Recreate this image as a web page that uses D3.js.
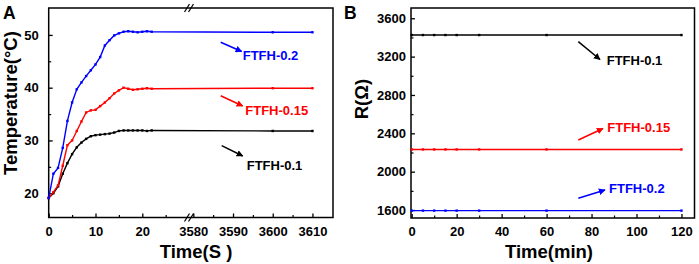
<!DOCTYPE html>
<html><head><meta charset="utf-8">
<script src="https://cdn.jsdelivr.net/npm/d3@7"></script>
<style>
body{margin:0;background:#fff;}
text{font-family:"Liberation Sans",Arial,sans-serif;font-weight:bold;}
</style></head>
<body><svg id="c" width="699" height="264"></svg>
<script>
// ---- Panel A data ----
const timeA = [0,1,2,3,4,5,6,7,8,9,10,11,12,13,14,15,16,17,18,19,20,21,22,3600,3610];
const tempBlue  = [19.1,23.7,24.8,28.6,33.7,37.2,39.7,41.0,42.2,43.3,44.4,45.8,48.0,49.0,49.9,50.3,50.6,50.7,50.6,50.5,50.6,50.7,50.6,50.5,50.5];
const tempRed   = [19.1,20.2,21.5,25.2,29.1,30.0,31.8,33.6,35.3,35.7,35.8,36.5,37.2,38.0,38.9,39.5,40.0,39.8,39.6,39.7,39.8,39.9,39.8,39.9,39.9];
const tempBlack = [19.1,20.0,21.3,23.7,25.7,27.4,28.7,29.6,30.3,30.8,31.0,31.1,31.2,31.3,31.5,31.8,31.9,31.9,31.9,31.9,31.9,31.8,31.9,31.8,31.8];
const ticksA1 = [0,10,20];
const ticksA2 = [3580,3590,3600,3610];
const ticksAy = [20,30,40,50];
// ---- Panel B data ----
const timeB = [0,5,10,15,20,30,60,120];
const resBlack = [3425,3425,3425,3425,3425,3425,3425,3425];
const resRed   = [2232,2232,2232,2232,2232,2232,2232,2232];
const resBlue  = [1594,1594,1594,1594,1594,1594,1594,1594];
const ticksBx = [0,20,40,60,80,100,120];
const ticksBy = [1600,2000,2400,2800,3200,3600];
const labels = ["FTFH-0.1","FTFH-0.15","FTFH-0.2"];
const colors = {black:"#000000", red:"#ff0000", blue:"#0000ff"};

const svg = d3.select("#c");
const fs = 13;
const fmt = d3.format("d");

function arrowDefs(){
  const defs = svg.append("defs");
  Object.entries(colors).forEach(([k,c])=>{
    defs.append("marker").attr("id","ah-"+k).attr("viewBox","0 0 10 10")
      .attr("refX",9).attr("refY",5).attr("markerWidth",4.5).attr("markerHeight",4.5)
      .attr("orient","auto").attr("markerUnits","strokeWidth")
      .append("path").attr("d","M0,0 L10,5 L0,10 z").attr("fill",c);
  });
}
arrowDefs();

function styleText(g){
  g.selectAll("text").attr("font-size",fs).attr("font-family","Liberation Sans, Arial")
    .attr("font-weight","bold").attr("fill","#000");
}

// ================= Panel A =================
const A = {l:48.7, r:333, t:8, b:217.5};
const xA1 = d3.scaleLinear().domain([0,30]).range([A.l,189.1]);
const xA2 = d3.scaleLinear().domain([3580,3615]).range([193.3,332.3]);
const xA = t => t < 1000 ? xA1(t) : xA2(t);
const yA = d3.scaleLinear().domain([15.4,55.1]).range([A.b,A.t]);
const gA = svg.append("g");

gA.append("rect").attr("x",A.l).attr("y",A.t).attr("width",A.r-A.l).attr("height",A.b-A.t)
  .attr("fill","none").attr("stroke","#000").attr("stroke-width",1.5);

const gya = gA.append("g").attr("transform",`translate(${A.l},0)`)
  .call(d3.axisLeft(yA).tickValues(ticksAy).tickSize(-4).tickPadding(10).tickFormat(fmt));
gya.select(".domain").remove();
gya.selectAll("line").attr("stroke-width",1.3);
styleText(gya);
const gyam = gA.append("g").attr("transform",`translate(${A.l},0)`)
  .call(d3.axisLeft(yA).tickValues([25,35,45]).tickSize(-2.5).tickFormat(""));
gyam.select(".domain").remove(); gyam.selectAll("line").attr("stroke-width",1.2);

function xTicksA(scale, vals, minor){
  const g = gA.append("g").attr("transform",`translate(0,${A.b})`)
    .call(d3.axisBottom(scale).tickValues(vals).tickSize(-4).tickPadding(9).tickFormat(fmt));
  g.select(".domain").remove();
  g.selectAll("line").attr("stroke-width",1.3);
  styleText(g);
  const gm = gA.append("g").attr("transform",`translate(0,${A.b})`)
    .call(d3.axisBottom(scale).tickValues(minor).tickSize(-2.5).tickFormat(""));
  gm.select(".domain").remove(); gm.selectAll("line").attr("stroke-width",1.2);
}
xTicksA(xA1, ticksA1, [5,15,25]);
xTicksA(xA2, ticksA2, [3585,3595,3605]);

// break marks
const bx = 189;
[A.t, A.b].forEach(y=>{
  [-2,2].forEach(dx=>{
    gA.append("line").attr("x1",bx+dx-2.5).attr("y1",y+4).attr("x2",bx+dx+2.5).attr("y2",y-4)
      .attr("stroke","#000").attr("stroke-width",1.2);
  });
});

const seriesA = [[tempBlack,"black"],[tempRed,"red"],[tempBlue,"blue"]];
const lineA = d3.line().x(d=>xA(d[0])).y(d=>yA(d[1]));
seriesA.forEach(([vals,k])=>{
  const pts = timeA.map((t,i)=>[t,vals[i]]);
  gA.append("path").datum(pts).attr("d",lineA).attr("fill","none")
    .attr("stroke",colors[k]).attr("stroke-width",1.4);
  gA.selectAll(null).data(pts).enter().append("rect")
    .attr("x",d=>xA(d[0])-1.2).attr("y",d=>yA(d[1])-1.2).attr("width",2.4).attr("height",2.4)
    .attr("fill",colors[k]);
});

const annA = [
  {k:"blue", lab:labels[2], x1:220.7,y1:42.3,x2:241.7,y2:51.5, tx:242.7, ty:55},
  {k:"red", lab:labels[1], x1:220.7,y1:95.7,x2:242.7,y2:106, tx:245.3, ty:110},
  {k:"black", lab:labels[0], x1:221.7,y1:145.7,x2:242.7,y2:156, tx:246.7, ty:165}
];
function drawAnn(g, a){
  g.append("line").attr("x1",a.x1).attr("y1",a.y1).attr("x2",a.x2).attr("y2",a.y2)
    .attr("stroke",colors[a.k]).attr("stroke-width",1.5).attr("marker-end",`url(#ah-${a.k})`);
  g.append("text").attr("x",a.tx).attr("y",a.ty).attr("dy","0.36em")
    .attr("font-size",fs).attr("fill",colors[a.k]).text(a.lab);
}
annA.forEach(a=>drawAnn(gA,a));

svg.append("text").attr("transform","translate(17,103) rotate(-90)").attr("text-anchor","middle")
  .attr("font-size",18.5).text("Temperature(°C)");
svg.append("text").attr("x",196).attr("y",258).attr("text-anchor","middle")
  .attr("font-size",18.5).text("Time(S )");
svg.append("text").attr("x",3).attr("y",19).attr("font-size",17.5).text("A");

// ================= Panel B =================
const B = {l:411, r:694.5, t:8, b:218};
const xB = d3.scaleLinear().domain([0,125.8]).range([411.7,B.r]);
const yB = d3.scaleLinear().domain([1517,3707]).range([B.b,B.t]);
const gB = svg.append("g");
gB.append("rect").attr("x",B.l).attr("y",B.t).attr("width",B.r-B.l).attr("height",B.b-B.t)
  .attr("fill","none").attr("stroke","#000").attr("stroke-width",1.5);

const gyb = gB.append("g").attr("transform",`translate(${B.l},0)`)
  .call(d3.axisLeft(yB).tickValues(ticksBy).tickSize(-4).tickPadding(5).tickFormat(fmt));
gyb.select(".domain").remove();
gyb.selectAll("line").attr("stroke-width",1.3);
styleText(gyb);
const gybm = gB.append("g").attr("transform",`translate(${B.l},0)`)
  .call(d3.axisLeft(yB).tickValues([1800,2200,2600,3000,3400]).tickSize(-2.5).tickFormat(""));
gybm.select(".domain").remove(); gybm.selectAll("line").attr("stroke-width",1.2);

const gxb = gB.append("g").attr("transform",`translate(0,${B.b})`)
  .call(d3.axisBottom(xB).tickValues(ticksBx).tickSize(-4).tickPadding(9).tickFormat(fmt));
gxb.select(".domain").remove();
gxb.selectAll("line").attr("stroke-width",1.3);
styleText(gxb);
const gxbm = gB.append("g").attr("transform",`translate(0,${B.b})`)
  .call(d3.axisBottom(xB).tickValues([10,30,50,70,90,110]).tickSize(-2.5).tickFormat(""));
gxbm.select(".domain").remove(); gxbm.selectAll("line").attr("stroke-width",1.2);

const seriesB = [[resBlack,"black"],[resRed,"red"],[resBlue,"blue"]];
const lineB = d3.line().x(d=>xB(d[0])).y(d=>yB(d[1]));
seriesB.forEach(([vals,k])=>{
  const pts = timeB.map((t,i)=>[t,vals[i]]);
  gB.append("path").datum(pts).attr("d",lineB).attr("fill","none")
    .attr("stroke",colors[k]).attr("stroke-width",1.4);
  gB.selectAll(null).data(pts).enter().append("rect")
    .attr("x",d=>xB(d[0])-1.2).attr("y",d=>yB(d[1])-1.2).attr("width",2.4).attr("height",2.4)
    .attr("fill",colors[k]);
});

const annB = [
  {k:"black", lab:labels[0], x1:578.3,y1:41.7,x2:600,y2:59.5, tx:606.7, ty:60},
  {k:"red", lab:labels[1], x1:578.3,y1:140,x2:603,y2:128.5, tx:607.3, ty:127.7},
  {k:"blue", lab:labels[2], x1:578.3,y1:198.3,x2:605,y2:190, tx:609, ty:188.3}
];
annB.forEach(a=>drawAnn(gB,a));

svg.append("text").attr("transform","translate(368,99) rotate(-90)").attr("text-anchor","middle")
  .attr("font-size",18.5).text("R(Ω)");
svg.append("text").attr("x",549).attr("y",258).attr("text-anchor","middle")
  .attr("font-size",18.5).text("Time(min)");
svg.append("text").attr("x",344).attr("y",19).attr("font-size",17.5).text("B");
</script></body></html>
